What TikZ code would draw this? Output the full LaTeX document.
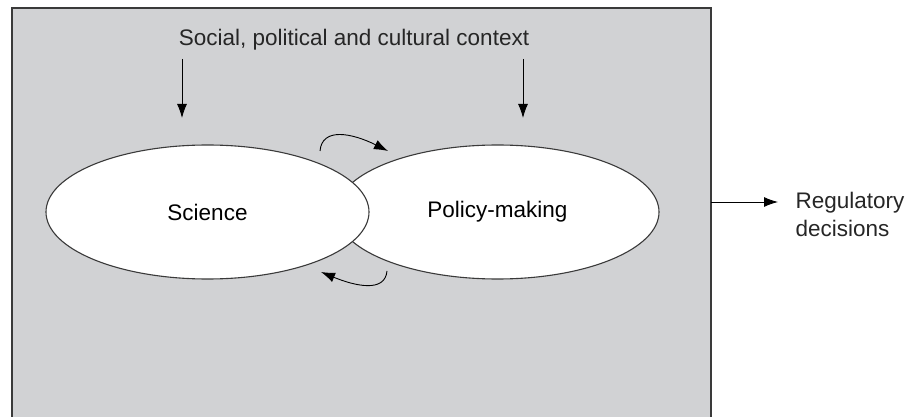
\documentclass[tikz,border=0pt]{standalone}
\usepackage{fontspec}
\setmainfont{Liberation Sans}
\usetikzlibrary{arrows.meta,shapes.geometric}
\definecolor{panelgray}{HTML}{D1D2D4}
\definecolor{edgegray}{HTML}{3A3A3A}
\tikzset{
    arr/.style={-{Latex[length=14pt,width=10pt]},line width=0.9pt},
    blob/.style={ellipse,draw=edgegray,fill=white,line width=1.1pt,inner sep=0pt,minimum width=323pt,minimum height=134pt}
}

\begin{document}
\begin{tikzpicture}[x=1pt,y=-1pt,font=\fontsize{22.5}{28}\selectfont]
\useasboundingbox (0,0) rectangle (911,417); % fixes margins

%%% CONTEXT PANEL %%%
\draw[fill=panelgray,draw=edgegray,line width=2pt] (12,8) rectangle (711,430); % grey box
\node[anchor=base,text=black!85] (context) at (354,46) {Social, political and cultural context};

\coordinate (LT) at (182,59); % left arrow top
\coordinate (LB) at (182,118); % left arrow bottom
\coordinate (RT) at (523,59); % right arrow top
\coordinate (RB) at (523,118); % right arrow bottom
\draw[arr] (LT) -- (LB); % left influence
\draw[arr] (RT) -- (RB); % right influence

%%% ELLIPSES %%%
\node[blob] (pol) at (497.5,212) {Policy-making}; % right one first
\node[blob] (sci) at (207.5,212) {Science}; % left one on top

%%% EXCHANGE ARROWS %%%
\coordinate (US) at (320,151); % upper start
\coordinate (UE) at (388,151); % upper end
\coordinate (DS) at (387,271); % lower start
\coordinate (DE) at (321,272); % lower end
\draw[arr] (US) .. controls (322,127) and (352,133) .. (UE); % science to policy
\draw[arr] (DS) .. controls (385,293) and (355,286) .. (DE); % policy to science

%%% OUTPUT %%%
\coordinate (boxR) at (711,202); % right edge of box
\node[anchor=west,align=left,text=black!85] (out) at (792,214) {Regulatory\\decisions};
\draw[arr] (boxR) -- (boxR -| out.west) [shorten >=14pt]; % to decisions
\end{tikzpicture}
\end{document}
